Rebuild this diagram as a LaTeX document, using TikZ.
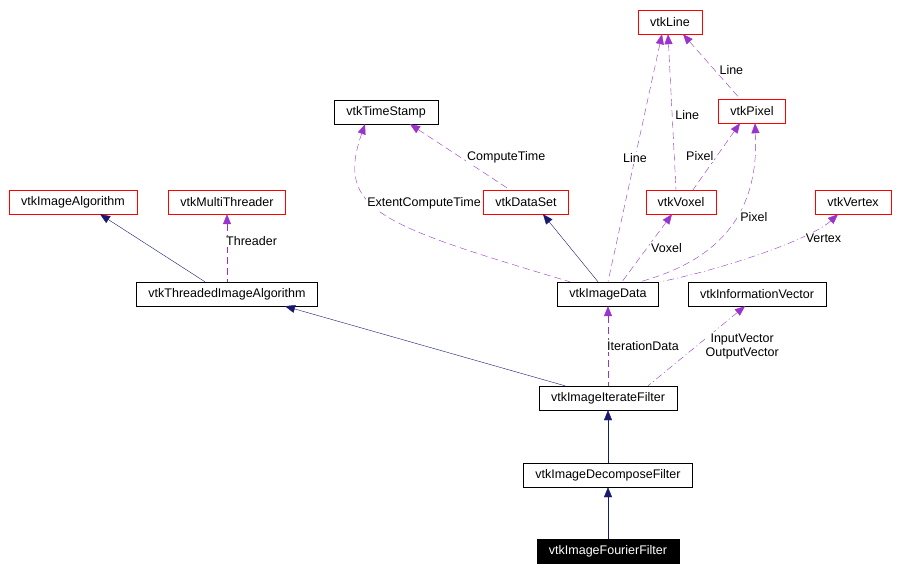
\documentclass[tikz,border=0pt]{standalone}
\usepackage{fontspec}
\setmainfont{Liberation Sans}
\usetikzlibrary{arrows.meta,positioning,calc}
\definecolor{edgeblue}{RGB}{25,25,112}
\definecolor{edgepurple}{RGB}{154,50,205}
\tikzset{
	cls/.style={
		rectangle,
		draw=black,
		fill=white,
		minimum height=24pt,
		inner xsep=12pt,
		font=\fontsize{12.5}{14}\selectfont,
	},
	ext/.style={
		cls,
		draw=red,
	},
	cur/.style={
		cls,
		fill=black,
		font=\fontsize{12.5}{14}\selectfont\color{white},
	},
	inherit/.style={
		{Triangle[width=8pt,length=10pt]}-,
		draw=edgeblue,
	},
	uses/.style={
		{Triangle[width=8pt,length=10pt]}-,
		draw=edgepurple,
		dash pattern=on 7pt off 4pt,
	},
	lbl/.style={
		font=\fontsize{12.5}{14}\selectfont,
		fill=white,
		inner sep=1pt,
		align=left,
	},
}
\begin{document}
\begin{tikzpicture}[x=1pt,y=-1pt]
\useasboundingbox (0,0) rectangle (903,572);

\node[ext] (line) at (670,22) {vtkLine};
\node[ext] (pixel) at (752,111) {vtkPixel};
\node[cls] (timestamp) at (386,112) {vtkTimeStamp};
\node[ext] (imagealgo) at (73,202) {vtkImageAlgorithm};
\node[ext] (multithreader) at (227,202) {vtkMultiThreader};
\node[ext] (dataset) at (526,202) {vtkDataSet};
\node[ext] (voxel) at (681,202) {vtkVoxel};
\node[ext] (vertex) at (853,202) {vtkVertex};
\node[cls] (threaded) at (227,294) {vtkThreadedImageAlgorithm};
\node[cls] (imagedata) at (608,294) {vtkImageData};
\node[cls] (infovector) at (757,294) {vtkInformationVector};
\node[cls] (iterate) at (608,398) {vtkImageIterateFilter};
\node[cls] (decompose) at (608,475) {vtkImageDecomposeFilter};
\node[cur] (fourier) at (608,551) {vtkImageFourierFilter};

% inheritance
\draw[inherit] ([xshift=27pt]imagealgo.south) -- ([xshift=-22pt]threaded.north);
\draw[inherit] ([xshift=58pt]threaded.south) -- ([xshift=-43pt]iterate.north);
\draw[inherit] ([xshift=17pt]dataset.south) -- ([xshift=-10pt]imagedata.north);
\draw[inherit] (iterate.south) -- (decompose.north);
\draw[inherit] (decompose.south) -- (fourier.north);

% usage
\draw[uses] (multithreader.south) -- node[lbl,right=-2pt,pos=0.4]{Threader} (threaded.north);
\draw[uses] ([xshift=24pt]timestamp.south) -- node[lbl,pos=0.5,right=6pt]{ComputeTime} ([xshift=-16pt]dataset.north);
\draw[uses] ([xshift=-21pt]timestamp.south) .. controls (335,210) and (380,225) .. node[lbl,pos=0.42,right=-6pt]{ExtentComputeTime} ([xshift=-38pt]imagedata.north);
\draw[uses] ([xshift=-8pt]line.south) -- node[lbl,pos=0.5]{Line} (imagedata.north);
\draw[uses] ([xshift=-2pt]line.south) -- node[lbl,pos=0.52,right=2pt]{Line} ([xshift=-5pt]voxel.north);
\draw[uses] ([xshift=13pt]line.south) -- node[lbl,pos=0.55,right=4pt]{Line} ([xshift=-12pt]pixel.north);
\draw[uses] ([xshift=-12pt]pixel.south) -- node[lbl,pos=0.5,left=2pt]{Pixel} ([xshift=12pt]voxel.north);
\draw[uses] ([xshift=3pt]pixel.south) .. controls (760,230) and (700,265) .. node[lbl,pos=0.38,right=3pt]{Pixel} ([xshift=32pt]imagedata.north);
\draw[uses] ([xshift=-9pt]voxel.south) -- node[lbl,pos=0.5,right=3pt]{Voxel} ([xshift=14pt]imagedata.north);
\draw[uses,dash pattern=on 7pt off 3pt on 1pt off 3pt] ([xshift=-15pt]vertex.south) .. controls (810,240) and (720,270) .. node[lbl,pos=0.3,right=6pt]{Vertex} ([xshift=52pt]imagedata.north);
\draw[uses] (imagedata.south) -- node[lbl,pos=0.5,right=-2pt]{IterationData} (iterate.north);
\draw[uses,dash pattern=on 7pt off 3pt on 1pt off 3pt] ([xshift=-12pt]infovector.south) -- node[lbl,pos=0.5,right=8pt,align=center]{InputVector\\OutputVector} ([xshift=40pt]iterate.north);
\end{tikzpicture}
\end{document}
